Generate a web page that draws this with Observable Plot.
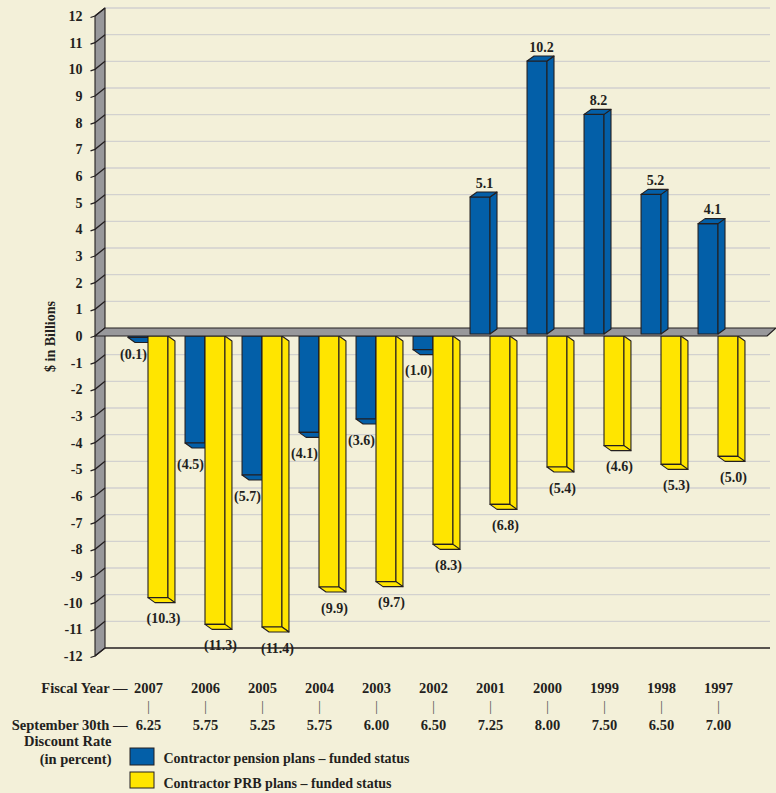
<!DOCTYPE html>
<html><head><meta charset="utf-8">
<script src="https://cdn.jsdelivr.net/npm/d3@7"></script>
<script src="https://cdn.jsdelivr.net/npm/@observablehq/plot@0.6"></script>
<style>html,body{margin:0;padding:0;background:#F3F0D9;}</style>
</head><body><div id="chart"></div>
<script>
const years = ["2007","2006","2005","2004","2003","2002","2001","2000","1999","1998","1997"];
const discountRates = ["6.25","5.75","5.25","5.75","6.00","6.50","7.25","8.00","7.50","6.50","7.00"];
const pension = [-0.1,-4.5,-5.7,-4.1,-3.6,-1.0,5.1,10.2,8.2,5.2,4.1];
const prb = [-10.3,-11.3,-11.4,-9.9,-9.7,-8.3,-6.8,-5.4,-4.6,-5.3,-5.0];
const yTicks = d3.range(-12, 13);
const seriesNames = ["Contractor pension plans – funded status", "Contractor PRB plans – funded status"];
const colors = ["#035FA8", "#FFE500"];

const INK = "#231F20";
const bars = years.flatMap((year, i) => [
  {year, series: 0, value: pension[i]},
  {year, series: 1, value: prb[i]}
]);
const fmt = v => v < 0 ? `(${Math.abs(v).toFixed(1)})` : v.toFixed(1);

function scene(index, scales, values, dims) {
  const x = scales.x, y = scales.y;
  const ns = "http://www.w3.org/2000/svg";
  const g = document.createElementNS(ns, "g");
  const add = (tag, attrs) => {
    const e = document.createElementNS(ns, tag);
    for (const k in attrs) e.setAttribute(k, attrs[k]);
    g.appendChild(e); return e;
  };
  const poly = (pts, fill) => add("polygon", {
    points: pts.map(p => p.join(",")).join(" "), fill, stroke: INK,
    "stroke-width": 1.1, "stroke-linejoin": "round"
  });
  const bw = x.bandwidth ? x.bandwidth() : (x(years[1]) - x(years[0]));
  const L = dims.marginLeft, R = dims.width - dims.marginRight;
  const Fb = dims.height - dims.marginBottom;
  const wallX = L - 24.5, WD = 10, WH = 8;
  const gridEnd = R + 23.5;
  const y0 = y(0);
  // back grid lines
  for (const t of yTicks) {
    if (t === 0) continue;
    const yy = y(t) - WH;
    add("line", {x1: wallX + WD, x2: gridEnd, y1: yy, y2: yy,
      stroke: t === -12 ? INK : "#D2D1CF", "stroke-width": t === -12 ? 1.3 : 1.4});
  }
  // left wall
  poly([[wallX, y(12)], [wallX + WD, y(12) - WH], [wallX + WD, y(-12) - WH], [wallX, y(-12)]], "#98989B");
  for (const t of yTicks) {
    const yy = y(t);
    add("polyline", {points: `${wallX - 4.5},${yy + 1.5} ${wallX},${yy} ${wallX + WD},${yy - WH}`,
      fill: "none", stroke: INK, "stroke-width": 1.3});
  }
  const w = bw * 0.35, bdx = 7, bdy = 5;
  const geom = d => {
    const c = x(d.year) + bw / 2;
    return d.series === 0 ? [c - w, c] : [c, c + w];
  };
  // negative bars (below the floor): bar end meets the back-wall level of its value
  for (const d of bars) {
    if (d.value >= 0) continue;
    const [x0, x1] = geom(d), yb = Math.max(y(d.value) - WH - bdy, y0 + 1.5), fill = colors[d.series];
    poly([[x0, y0], [x1, y0], [x1, yb], [x0, yb]], fill);
    poly([[x1, y0], [x1 + bdx, y0 + bdy], [x1 + bdx, yb + bdy], [x1, yb]], fill);
    poly([[x0, yb], [x1, yb], [x1 + bdx, yb + bdy], [x0 + bdx, yb + bdy]], fill);
  }
  // floor at zero
  poly([[wallX, y0], [R + 20.5, y0], [R + 29.5, y0 - WH], [wallX + WD, y0 - WH]], "#98989B");
  // positive bars
  for (const d of bars) {
    if (d.value <= 0) continue;
    const [x0, x1] = geom(d), yt = y(d.value) - WH + bdy, yb = y0 - 2, fill = colors[d.series];
    poly([[x0, yt], [x1, yt], [x1, yb], [x0, yb]], fill);
    poly([[x1, yt], [x1 + bdx, yt - bdy], [x1 + bdx, yb - bdy], [x1, yb]], fill);
    poly([[x0, yt], [x1, yt], [x1 + bdx, yt - bdy], [x0 + bdx, yt - bdy]], fill);
  }
  // legend swatches
  add("rect", {x: L + 10.5, y: Fb + 92, width: 24, height: 17, fill: colors[0], stroke: INK, "stroke-width": 1});
  add("rect", {x: L + 10.5, y: Fb + 116, width: 24, height: 16, fill: colors[1], stroke: INK, "stroke-width": 1});
  return g;
}

const txt = {lineAnchor: "bottom", fill: INK, fontWeight: "bold"};

const chart = Plot.plot({
  width: 776, height: 793,
  marginLeft: 119.5, marginRight: 29.5, marginTop: 16, marginBottom: 137,
  x: {type: "band", domain: years, padding: 0, round: false, axis: null},
  y: {domain: [-12, 12], axis: null},
  style: {background: "#F3F0D9", fontFamily: "'Liberation Serif', 'Times New Roman', serif",
    fontWeight: "bold", fontSize: "14px", color: INK, overflow: "visible"},
  marks: [
    scene,
    Plot.axisY(yTicks, {tickSize: 0, tickPadding: 37.5, tickFormat: d => String(d),
      fontSize: 14, fontWeight: "bold", fill: INK, label: null}),
    Plot.text(["$ in Billions"], {text: d => d, frameAnchor: "left", dx: -69.5, rotate: -90,
      textAnchor: "middle", lineAnchor: "middle", fontSize: 14, fill: INK, fontWeight: "bold"}),
    // value labels
    Plot.text(bars.filter(d => d.series === 0 && d.value > 0), {x: "year", y: "value", text: d => fmt(d.value),
      dx: -6, dy: -13, textAnchor: "middle", fontSize: 14, ...txt}),
    Plot.text(bars.filter(d => d.series === 0 && d.value < 0), {x: "year", y: d => Math.min(d.value, -0.375), text: d => fmt(d.value),
      dx: -15, dy: 12, textAnchor: "middle", fontSize: 14, ...txt}),
    Plot.text(bars.filter(d => d.series === 1 && d.value < 0), {x: "year", y: "value", text: d => fmt(d.value),
      dx: 15, dy: 12, textAnchor: "middle", fontSize: 14, ...txt}),
    // fiscal year and discount rate rows
    Plot.text(years, {x: d => d, text: d => d, frameAnchor: "bottom", dy: 36, textAnchor: "middle", fontSize: 14.5, ...txt}),
    Plot.text(years, {x: d => d, text: () => "|", frameAnchor: "bottom", dy: 54, textAnchor: "middle", fontSize: 15, ...txt, fontWeight: "normal", fill: "#555"}),
    Plot.text(years, {x: d => d, text: (d, i) => discountRates[i], frameAnchor: "bottom", dy: 73, textAnchor: "middle", fontSize: 14.5, ...txt}),
    Plot.text(["Fiscal Year —"], {text: d => d, frameAnchor: "bottom-left", dx: 7.5, dy: 36, textAnchor: "end", fontSize: 14.5, ...txt}),
    Plot.text(["September 30th —"], {text: d => d, frameAnchor: "bottom-left", dx: 7.5, dy: 73, textAnchor: "end", fontSize: 14.5, ...txt}),
    Plot.text(["Discount Rate"], {text: d => d, frameAnchor: "bottom-left", dx: -8.5, dy: 89, textAnchor: "end", fontSize: 14.5, ...txt}),
    Plot.text(["(in percent)"], {text: d => d, frameAnchor: "bottom-left", dx: -8.5, dy: 107, textAnchor: "end", fontSize: 14.5, ...txt}),
    // legend labels
    Plot.text([seriesNames[0]], {text: d => d, frameAnchor: "bottom-left", dx: 43.5, dy: 106, textAnchor: "start", fontSize: 14, ...txt}),
    Plot.text([seriesNames[1]], {text: d => d, frameAnchor: "bottom-left", dx: 43.5, dy: 131, textAnchor: "start", fontSize: 14, ...txt})
  ]
});
document.getElementById("chart").appendChild(chart);
</script>
</body></html>
